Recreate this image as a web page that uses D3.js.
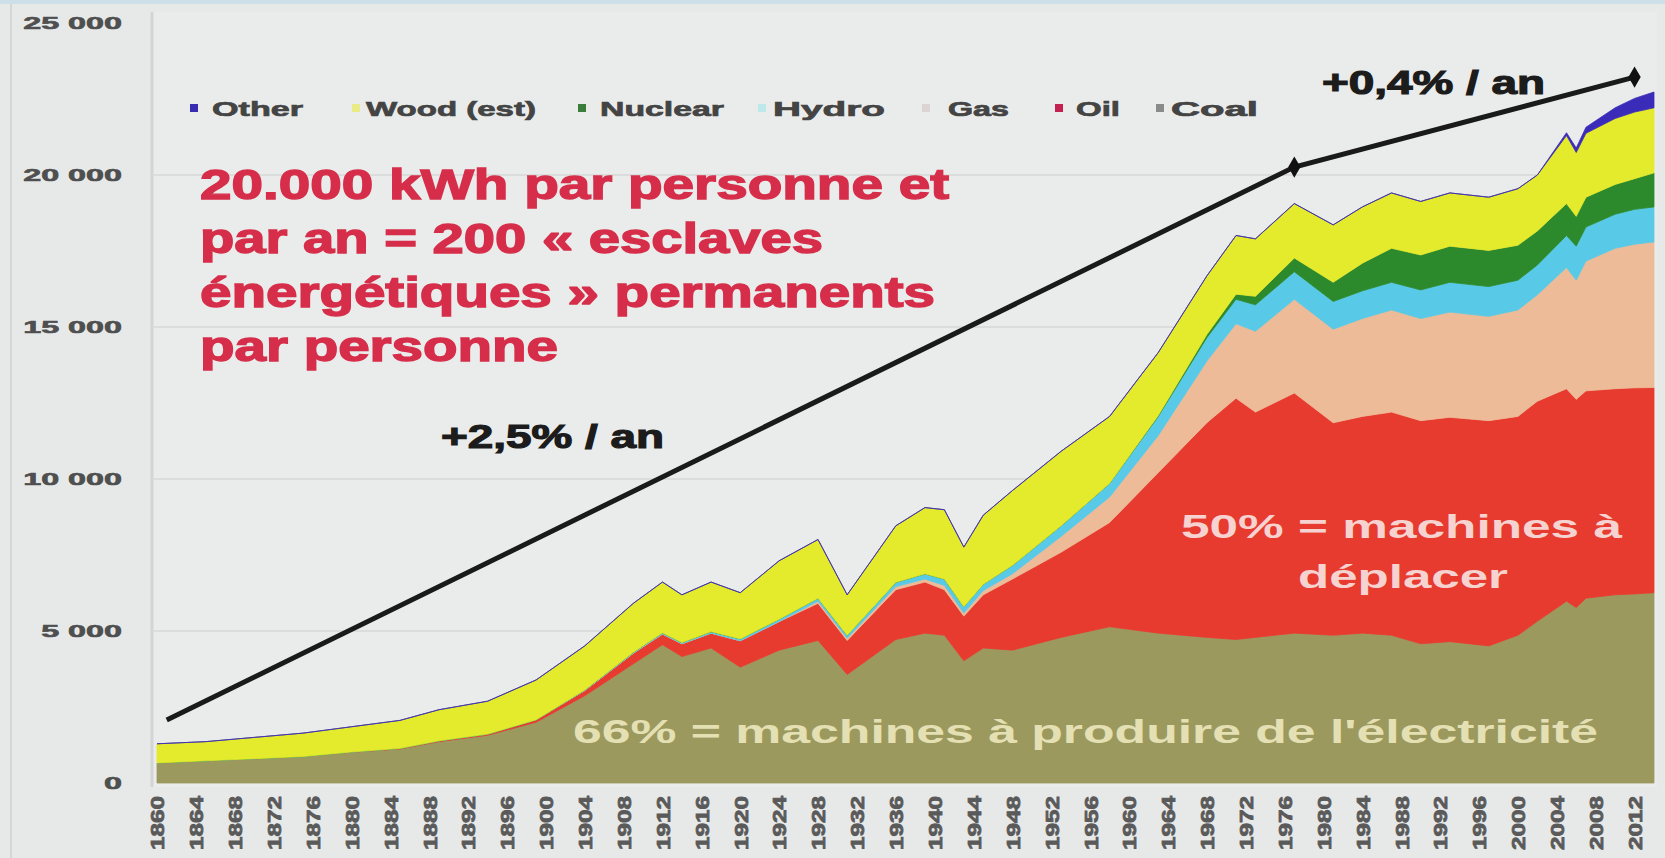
<!DOCTYPE html>
<html>
<head>
<meta charset="utf-8">
<script src="https://cdn.jsdelivr.net/npm/d3@7"></script>
<style>
  body { margin: 0; background: #e7e9e9; }
  svg { display: block; font-family: "Liberation Sans", Arial, sans-serif; }
</style>
</head>
<body>
<div id="chart"></div>
<script>
// world primary energy per person, kWh / year
const years = [1860, 1865, 1870, 1875, 1880, 1885, 1889, 1894, 1899, 1904, 1909, 1912, 1914, 1917, 1920,
  1924, 1928, 1931, 1936, 1939, 1941, 1943, 1945, 1948, 1953, 1958, 1963, 1968, 1971, 1973, 1977, 1981,
  1984, 1987, 1990, 1993, 1997, 2000, 2002, 2005, 2006, 2007, 2010, 2012, 2014];

const coal = [660, 730, 800, 870, 1010, 1120, 1360, 1570, 2000, 2870, 3920, 4550, 4160, 4440, 3810,
  4370, 4690, 3570, 4720, 4930, 4860, 4020, 4440, 4370, 4790, 5140, 4930, 4790, 4720, 4790, 4930, 4860,
  4930, 4860, 4580, 4650, 4510, 4860, 5320, 5980, 5770, 6080, 6190, 6220, 6260];
const oil = [0, 0, 0, 0, 10, 20, 30, 40, 80, 170, 350, 350, 420, 490, 870,
  940, 1220, 1120, 1640, 1680, 1500, 1470, 1750, 2340, 2800, 3430, 5280, 7060, 7940, 7410, 7900, 6990,
  7130, 7340, 7340, 7380, 7410, 7200, 7240, 6990, 6850, 6820, 6780, 6780, 6750];
const gas = [0, 0, 0, 0, 0, 0, 0, 0, 0, 0, 0, 0, 0, 0, 0,
  0, 70, 70, 100, 100, 140, 100, 140, 170, 520, 840, 1220, 2030, 2450, 2660, 3080, 3080,
  3220, 3360, 3360, 3460, 3430, 3500, 3500, 3990, 3920, 4270, 4620, 4720, 4790];
const hydro = [0, 0, 0, 0, 0, 0, 0, 0, 0, 20, 30, 40, 40, 50, 60,
  80, 100, 100, 140, 170, 210, 210, 210, 280, 350, 450, 630, 770, 800, 870, 910, 910,
  910, 910, 940, 980, 980, 980, 980, 1050, 1120, 1120, 1120, 1150, 1150];
const nuclear = [0, 0, 0, 0, 0, 0, 0, 0, 0, 0, 0, 0, 0, 0, 0,
  0, 0, 0, 0, 0, 0, 0, 0, 0, 0, 0, 30, 100, 170, 280, 450, 630,
  910, 1120, 1150, 1190, 1190, 1150, 1120, 1050, 980, 980, 980, 1010, 1120];
const wood = [630, 630, 700, 770, 830, 920, 1020, 1080, 1310, 1450, 1610, 1670, 1570, 1630, 1520,
  1920, 1930, 1330, 1860, 2180, 2280, 1960, 2270, 2460, 2450, 2200, 2070, 1930, 1930, 1890, 1790, 1890,
  1850, 1820, 1760, 1750, 1750, 1860, 1840, 2240, 2100, 2100, 2170, 2190, 2140];
const other = [0, 0, 0, 0, 0, 0, 0, 0, 0, 0, 0, 0, 0, 0, 0,
  0, 0, 0, 0, 0, 0, 0, 0, 0, 0, 0, 0, 0, 0, 0, 0, 0,
  0, 0, 0, 0, 0, 0, 0, 90, 150, 200, 350, 450, 520];

// growth trend line
const trendYears = [1861, 1977, 2012];
const trendValues = [2070, 20260, 23220];

const yearLabels = [1860, 1864, 1868, 1872, 1876, 1880, 1884, 1888, 1892, 1896, 1900, 1904, 1908,
  1912, 1916, 1920, 1924, 1928, 1932, 1936, 1940, 1944, 1948, 1952, 1956, 1960, 1964, 1968, 1972,
  1976, 1980, 1984, 1988, 1992, 1996, 2000, 2004, 2008, 2012];
const valueTicks = [0, 5000, 10000, 15000, 20000, 25000];

const keys = ["coal", "oil", "gas", "hydro", "nuclear", "wood", "other"];
const colors = {
  coal: "#9c995f", oil: "#e63b2e", gas: "#edbb98", hydro: "#58c9e6",
  nuclear: "#2d8a2c", wood: "#e4ea2c", other: "#3a2cb8"
};

const legendLabels = ["Other", "Wood (est)", "Nuclear", "Hydro", "Gas", "Oil", "Coal"];
const legendColors = ["#3a2cb0", "#e9ec86", "#3b7d3b", "#bde9ea", "#dcd4d4", "#c42050", "#8a8a8a"];
const legendX = [194, 356, 582, 762, 926, 1059, 1160];
const legendTextX = [212, 366, 600, 773, 948, 1076, 1171];
const legendTextW = [91, 170, 124, 112, 61, 44, 87];

const redLines = ["20.000 kWh par personne et", "par an = 200 « esclaves",
  "énergétiques » permanents", "par personne"];
const redWidths = [749, 623, 735, 358];

const W = 1665, H = 858;
const svg = d3.select("#chart").append("svg").attr("width", W).attr("height", H);

function stretch(sel, k) {
  sel.each(function() {
    const w = this.getComputedTextLength();
    d3.select(this).attr("textLength", w * k).attr("lengthAdjust", "spacingAndGlyphs");
  });
}

// frame bits
svg.append("rect").attr("width", W).attr("height", H).attr("fill", "#e7e9e9");
svg.append("rect").attr("width", W).attr("height", 4).attr("fill", "#cddfe9");
svg.append("line").attr("x1", 11).attr("x2", 11).attr("y1", 4).attr("y2", H)
  .attr("stroke", "#d5d7d7").attr("stroke-width", 2);
svg.append("rect").attr("x", 152).attr("y", 12).attr("width", 1505).attr("height", 775)
  .attr("fill", "#eaeceb");
svg.append("line").attr("x1", 152).attr("x2", 152).attr("y1", 12).attr("y2", 787)
  .attr("stroke", "#d3d5d5").attr("stroke-width", 3);

const x = d3.scaleLinear().domain([1860, 2014]).range([157, 1654]);
const y = d3.scaleLinear().domain([0, 25000]).range([783, 23]);

// grid
svg.append("g").selectAll("line")
  .data(valueTicks.filter(v => v > 0 && v < 25000))
  .join("line")
  .attr("x1", 152).attr("x2", 1654)
  .attr("y1", d => y(d)).attr("y2", d => y(d))
  .attr("stroke", "#d6d8d8").attr("stroke-width", 1.5);

// stacked areas
const rows = years.map((yr, i) => ({
  year: yr, coal: coal[i], oil: oil[i], gas: gas[i], hydro: hydro[i],
  nuclear: nuclear[i], wood: wood[i], other: other[i]
}));
const series = d3.stack().keys(keys)(rows);
const area = d3.area()
  .x(d => x(d.data.year))
  .y0(d => y(d[0]))
  .y1(d => y(d[1]));

svg.append("g").selectAll("path")
  .data(series)
  .join("path")
  .attr("d", area)
  .attr("fill", d => colors[d.key])
  .attr("stroke", d => colors[d.key])
  .attr("stroke-width", 0.8);

// trend line
const trend = trendYears.map((yr, i) => ({ year: yr, value: trendValues[i] }));
svg.append("path")
  .datum(trend)
  .attr("d", d3.line().x(d => x(d.year)).y(d => y(d.value)))
  .attr("fill", "none")
  .attr("stroke", "#1a1a1a")
  .attr("stroke-width", 5);
svg.append("g").selectAll("path")
  .data(trend.slice(1))
  .join("path")
  .attr("transform", d => `translate(${x(d.year)},${y(d.value)})`)
  .attr("d", d3.symbol(d3.symbolDiamond, 130))
  .attr("fill", "#111");

// y axis
const fr = d3.formatLocale({ decimal: ",", thousands: " ", grouping: [3], currency: ["", ""] });
const yAxis = svg.append("g")
  .attr("transform", "translate(122,0)")
  .call(d3.axisLeft(y).tickValues(valueTicks).tickFormat(fr.format(",d")).tickSize(0).tickPadding(0));
yAxis.select(".domain").remove();
yAxis.selectAll("text")
  .attr("fill", "#4f4f4f")
  .attr("stroke", "#4f4f4f").attr("stroke-width", 0.6)
  .style("font-size", "17px")
  .style("font-weight", "bold")
  .style("font-family", "'Liberation Sans', Arial, sans-serif")
  .call(stretch, 1.9);

// x axis
const xAxis = svg.append("g")
  .attr("transform", "translate(0,796)")
  .call(d3.axisBottom(x).tickValues(yearLabels).tickFormat(d3.format("d")).tickSize(0));
xAxis.select(".domain").remove();
xAxis.selectAll("text")
  .attr("transform", "rotate(-90)")
  .attr("text-anchor", "end")
  .attr("x", 0).attr("y", 0).attr("dy", "0.36em")
  .attr("fill", "#5a5a5a")
  .attr("stroke", "#5a5a5a").attr("stroke-width", 0.8)
  .style("font-size", "19px")
  .style("font-weight", "bold")
  .style("font-family", "'Liberation Sans', Arial, sans-serif")
  .call(stretch, 1.28);

// legend
const legend = svg.append("g");
legend.selectAll("rect")
  .data(legendLabels)
  .join("rect")
  .attr("x", (d, i) => legendX[i] - 4).attr("y", 104)
  .attr("width", 8).attr("height", 8)
  .attr("fill", (d, i) => legendColors[i]);
legend.selectAll("text")
  .data(legendLabels)
  .join("text")
  .attr("x", (d, i) => legendTextX[i]).attr("y", 116)
  .attr("textLength", (d, i) => legendTextW[i])
  .attr("lengthAdjust", "spacingAndGlyphs")
  .attr("fill", "#444")
  .attr("stroke", "#444").attr("stroke-width", 0.7)
  .style("font-size", "21px")
  .style("font-weight", "bold")
  .text(d => d);

// red message
svg.append("g").selectAll("text")
  .data(redLines)
  .join("text")
  .attr("x", 200)
  .attr("y", (d, i) => 199 + i * 54)
  .attr("textLength", (d, i) => redWidths[i])
  .attr("lengthAdjust", "spacingAndGlyphs")
  .attr("fill", "#d62e4a")
  .attr("stroke", "#d62e4a").attr("stroke-width", 1.4)
  .style("font-size", "42px")
  .style("font-weight", "bold")
  .text(d => d);

// growth labels
svg.append("text")
  .attr("x", 441).attr("y", 448)
  .attr("textLength", 223).attr("lengthAdjust", "spacingAndGlyphs")
  .attr("fill", "#1c1c1c").attr("stroke", "#1c1c1c").attr("stroke-width", 1.2)
  .style("font-size", "34px").style("font-weight", "bold")
  .text("+2,5% / an");
svg.append("text")
  .attr("x", 1322).attr("y", 94)
  .attr("textLength", 223).attr("lengthAdjust", "spacingAndGlyphs")
  .attr("fill", "#1c1c1c").attr("stroke", "#1c1c1c").attr("stroke-width", 1.2)
  .style("font-size", "34px").style("font-weight", "bold")
  .text("+0,4% / an");

// labels inside the areas
svg.append("text")
  .attr("x", 1181).attr("y", 538)
  .attr("textLength", 441).attr("lengthAdjust", "spacingAndGlyphs")
  .attr("fill", "#f6d2d0")
  .style("font-size", "34px").style("font-weight", "bold")
  .text("50% = machines à");
svg.append("text")
  .attr("x", 1298).attr("y", 588)
  .attr("textLength", 210).attr("lengthAdjust", "spacingAndGlyphs")
  .attr("fill", "#f6d2d0")
  .style("font-size", "34px").style("font-weight", "bold")
  .text("déplacer");
svg.append("text")
  .attr("x", 573).attr("y", 743)
  .attr("textLength", 1025).attr("lengthAdjust", "spacingAndGlyphs")
  .attr("fill", "#e4e0b4")
  .style("font-size", "34px").style("font-weight", "bold")
  .text("66% = machines à produire de l'électricité");
</script>
</body>
</html>
